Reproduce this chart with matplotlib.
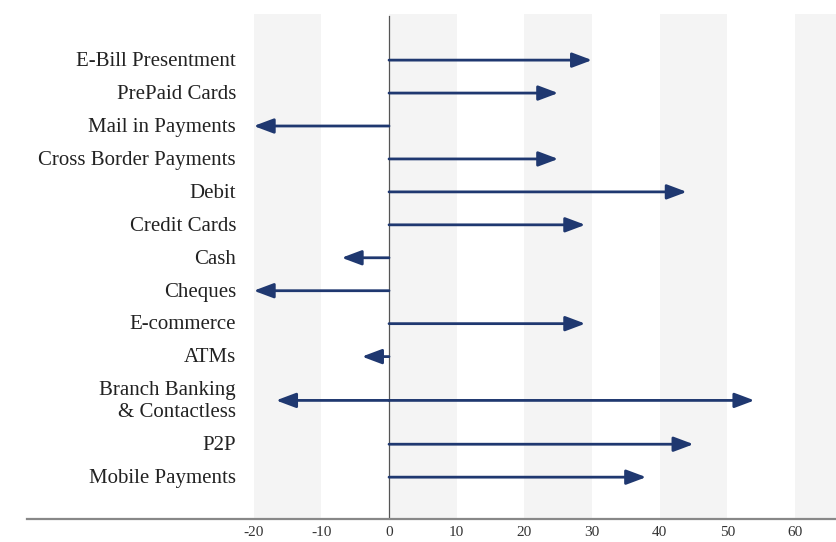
import numpy as np
import matplotlib
matplotlib.use('Agg')
import matplotlib.pyplot as plt

plt.rcParams['font.family'] = ['Liberation Serif', 'DejaVu Serif']

# data (change in %)
labels = ['E-Bill Presentment', 'PrePaid Cards', 'Mail in Payments',
          'Cross Border Payments', 'Debit', 'Credit Cards', 'Cash', 'Cheques',
          'E-commerce', 'ATMs', 'Branch Banking\n& Contactless', 'P2P',
          'Mobile Payments']
values = [30, 25, -20, 25, 44, 29, -7, -20, 29, -4, 54, 45, 38]
# second arrow on the merged row (Branch Banking)
extra_values = [None, None, None, None, None, None, None, None, None, None, -16.7, None, None]
xticks = [-20, -10, 0, 10, 20, 30, 40, 50, 60]

navy = '#1f3870'

# row positions, two-line label gets a bit more room
ypos = []
y = 0.0
for i, lab in enumerate(labels):
    if i > 0:
        step = 1.0
        if '\n' in lab or '\n' in labels[i - 1]:
            step = 1.33
        y -= step
    ypos.append(y)

fig = plt.figure(figsize=(8.37, 5.42), dpi=100)
ax = fig.add_axes([27/837, 23/542, 810/837, 505/542])

x0, x1 = -53.5, 66.2
ax.set_xlim(x0, x1)
ax.set_ylim(ypos[-1] - 1.27, ypos[0] + 1.4)

# alternating light bands
for b in range(-20, 70, 20):
    ax.axvspan(b, b + 10, color='#f4f4f4', zorder=0, lw=0)

ax.axvline(0, color='#555555', lw=0.9, zorder=1, ymin=0, ymax=0.996)

def arrow(xend, yy):
    ax.annotate('', xy=(xend, yy), xytext=(0, yy),
                arrowprops=dict(arrowstyle='-|>,head_length=12,head_width=4.5',
                                mutation_scale=1, color=navy, lw=2,
                                shrinkA=0, shrinkB=0), zorder=3)

for v, ev, yy, lab in zip(values, extra_values, ypos, labels):
    arrow(v, yy)
    if ev is not None:
        arrow(ev, yy)
    ax.text(-22.6, yy - 0.04, lab, ha='right', va='center', fontsize=15,
            color='#222222', linespacing=1.2)

ax.set_xticks(xticks)
ax.set_xticklabels([str(t) for t in xticks], fontsize=11, color='#333333')
ax.tick_params(axis='x', length=0, pad=5)
ax.set_yticks([])
for s in ['top', 'right', 'left']:
    ax.spines[s].set_visible(False)
ax.spines['bottom'].set_color('#888888')
ax.spines['bottom'].set_linewidth(1.6)

fig.savefig('out.png', dpi=100)
